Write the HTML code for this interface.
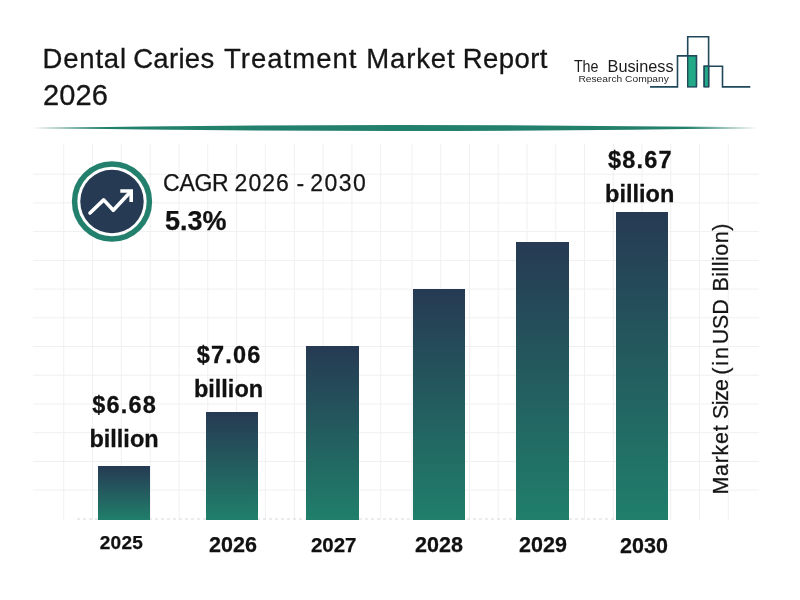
<!DOCTYPE html>
<html><head><meta charset="utf-8">
<style>
html,body{margin:0;padding:0;background:#fff;}
body{width:800px;height:600px;position:relative;overflow:hidden;font-family:"Liberation Sans",sans-serif;color:#111;}
.abs{position:absolute;white-space:nowrap;}
#grid{position:absolute;left:0;top:0;}
.title{font-size:27.5px;line-height:37.25px;color:#151515;white-space:pre;-webkit-text-stroke:0.3px #151515;}.w{position:absolute;top:0;white-space:pre;}
.bar{position:absolute;background:linear-gradient(to bottom,#263a53 0%,#207f6b 100%);}
.lbl{position:absolute;text-align:center;font-weight:bold;font-size:23.5px;line-height:34px;color:#111;width:120px;-webkit-text-stroke:0.3px #111;}.lbl span{letter-spacing:1.2px;margin-right:-1.2px}
.yr{position:absolute;text-align:center;font-weight:bold;color:#111;width:80px;-webkit-text-stroke:0.25px #111;}
</style></head><body>
<svg id="grid" width="800" height="600" viewBox="0 0 800 600"><g stroke="#f0f0f0" stroke-width="1"><line x1="63.7" y1="144" x2="63.7" y2="520"/><line x1="92.5" y1="144" x2="92.5" y2="520"/><line x1="121.3" y1="144" x2="121.3" y2="520"/><line x1="150.2" y1="144" x2="150.2" y2="520"/><line x1="179.0" y1="144" x2="179.0" y2="520"/><line x1="207.8" y1="144" x2="207.8" y2="520"/><line x1="236.6" y1="144" x2="236.6" y2="520"/><line x1="265.4" y1="144" x2="265.4" y2="520"/><line x1="294.3" y1="144" x2="294.3" y2="520"/><line x1="323.1" y1="144" x2="323.1" y2="520"/><line x1="351.9" y1="144" x2="351.9" y2="520"/><line x1="380.7" y1="144" x2="380.7" y2="520"/><line x1="412.0" y1="144" x2="412.0" y2="520"/><line x1="440.8" y1="144" x2="440.8" y2="520"/><line x1="469.5" y1="144" x2="469.5" y2="520"/><line x1="498.2" y1="144" x2="498.2" y2="520"/><line x1="527.0" y1="144" x2="527.0" y2="520"/><line x1="555.8" y1="144" x2="555.8" y2="520"/><line x1="584.5" y1="144" x2="584.5" y2="520"/><line x1="613.2" y1="144" x2="613.2" y2="520"/><line x1="642.0" y1="144" x2="642.0" y2="520"/><line x1="670.8" y1="144" x2="670.8" y2="520"/><line x1="699.5" y1="144" x2="699.5" y2="520"/><line x1="728.2" y1="144" x2="728.2" y2="520"/><line x1="33" y1="174.2" x2="759" y2="174.2"/><line x1="33" y1="202.9" x2="759" y2="202.9"/><line x1="33" y1="231.6" x2="759" y2="231.6"/><line x1="33" y1="260.4" x2="759" y2="260.4"/><line x1="33" y1="289.1" x2="759" y2="289.1"/><line x1="33" y1="317.8" x2="759" y2="317.8"/><line x1="33" y1="346.5" x2="759" y2="346.5"/><line x1="33" y1="375.2" x2="759" y2="375.2"/><line x1="33" y1="404.0" x2="759" y2="404.0"/><line x1="33" y1="432.7" x2="759" y2="432.7"/><line x1="33" y1="461.4" x2="759" y2="461.4"/><line x1="33" y1="490.1" x2="759" y2="490.1"/></g><line x1="77" y1="519" x2="668" y2="519" stroke="#d9d9d9" stroke-width="1" stroke-dasharray="3 3"/></svg>
<div class="abs title" style="left:0;top:39.5px;width:600px;height:80px"><span class="w" style="left:42.5px;letter-spacing:0.81px">Dental </span><span class="w" style="left:133.16px;letter-spacing:0.32px">Caries </span><span class="w" style="left:224.05px;letter-spacing:1.01px">Treatment </span><span class="w" style="left:366.26px;letter-spacing:0.85px">Market </span><span class="w" style="left:462.76px;letter-spacing:0.44px">Report</span><span class="w" style="left:43.1px;top:37.25px;letter-spacing:0.1px;font-size:29px">2026</span></div>
<svg class="abs" style="left:0;top:0" width="800" height="600" viewBox="0 0 800 600">
  <defs>
    <linearGradient id="lg" x1="0" x2="1" y1="0" y2="0">
      <stop offset="0" stop-color="#2b3f55"/><stop offset="0.15" stop-color="#23806d"/><stop offset="0.85" stop-color="#23806d"/><stop offset="1" stop-color="#2b3f55"/>
    </linearGradient>
  </defs>
  <path d="M32 128 Q395 122 758 128 Q395 134 32 128Z" fill="#23806d"/>
  <!-- logo -->
  <g fill="none" stroke="#21475a" stroke-width="1.6">
    <path d="M650 86.9 H677.5 V55.9 H696.4 V87"/>
    <path d="M687.7 56 V36.8 H708.6 V87"/>
    <path d="M704.2 87 V66.2 H722.5 V86.9 H750.3"/>
  </g>
  <rect x="687.7" y="55.9" width="8.7" height="31" fill="#22a987" stroke="#21475a" stroke-width="1.4"/>
  <rect x="704.2" y="66.2" width="4.4" height="20.7" fill="#22a987" stroke="#21475a" stroke-width="1.4"/>
  <text y="71.9" font-family="Liberation Sans, sans-serif" font-size="16.8" fill="#1b1b1b"><tspan x="573.9" textLength="24.6" lengthAdjust="spacingAndGlyphs">The</tspan> <tspan x="607.6" textLength="66" lengthAdjust="spacingAndGlyphs">Business</tspan></text>
  <text x="578.4" y="82.3" font-family="Liberation Sans, sans-serif" font-size="9" fill="#2a2a2a" textLength="90.5" lengthAdjust="spacingAndGlyphs">Research Company</text>
  <!-- icon -->
  <circle cx="112" cy="201.5" r="37.4" fill="none" stroke="#23806d" stroke-width="5.5"/>
  <circle cx="112" cy="201.5" r="31.7" fill="#263a53"/>
  <path d="M90 213 L103.7 199.9 L113.3 210.3 L130.3 192" fill="none" stroke="#fff" stroke-width="3.6" stroke-linecap="round" stroke-linejoin="round"/>
  <path d="M120.3 191 H131.2 V202" fill="none" stroke="#fff" stroke-width="3.6" stroke-linecap="butt" stroke-linejoin="miter"/>
</svg>
<div class="abs" style="left:0;top:168px;width:400px;height:30px;font-size:23px;line-height:30px;color:#151515;white-space:pre;-webkit-text-stroke:0.25px #151515;"><span class="w" style="left:163.11px;letter-spacing:-0.31px">CAGR </span><span class="w" style="left:234.6px;letter-spacing:1.03px">2026 </span><span class="w" style="left:296.4px;letter-spacing:0px">- </span><span class="w" style="left:310.2px;letter-spacing:1.45px">2030</span></div>
<div class="abs" style="left:165px;top:204px;font-size:27px;line-height:34px;font-weight:bold;color:#111;-webkit-text-stroke:0.25px #111;">5.3%</div>

<div class="bar" style="left:98px;top:466.4px;width:52px;height:53.4px"></div>
<div class="bar" style="left:205.8px;top:411.5px;width:52.3px;height:108.3px"></div>
<div class="bar" style="left:306.3px;top:346px;width:52.3px;height:173.8px"></div>
<div class="bar" style="left:412.6px;top:289px;width:52.4px;height:230.8px"></div>
<div class="bar" style="left:516.2px;top:242px;width:52.5px;height:277.8px"></div>
<div class="bar" style="left:616px;top:212.4px;width:52.1px;height:307.4px"></div>

<div class="lbl" style="left:64px;top:388px"><span>$6.68</span></div><div class="lbl" style="left:64px;top:422px">billion</div>
<div class="lbl" style="left:168.5px;top:338px"><span>$7.06</span></div><div class="lbl" style="left:168.5px;top:372px">billion</div>
<div class="lbl" style="left:579.7px;top:143px"><span>$8.67</span></div><div class="lbl" style="left:579.7px;top:177px">billion</div>

<div class="yr" style="left:81.4px;top:532px;font-size:19px;line-height:22px;letter-spacing:0.25px">2025</div>
<div class="yr" style="left:193px;top:532px;font-size:21.5px;line-height:26px">2026</div>
<div class="yr" style="left:293.7px;top:532px;font-size:20.5px;line-height:26px">2027</div>
<div class="yr" style="left:399px;top:532px;font-size:21.5px;line-height:26px">2028</div>
<div class="yr" style="left:503px;top:532px;font-size:21.5px;line-height:26px">2029</div>
<div class="yr" style="left:604px;top:533px;font-size:21.5px;line-height:26px">2030</div>

<div class="abs" id="ylab" style="left:709.2px;top:492.8px;width:300px;height:24px;font-size:21.5px;line-height:24px;color:#151515;white-space:pre;-webkit-text-stroke:0.25px #151515;transform-origin:0 0;transform:rotate(-90deg);"><span class="w" style="left:-1.57px;letter-spacing:0.7px">Market </span><span class="w" style="left:74.11px;letter-spacing:-0.63px">Size </span><span class="w" style="left:118.16px;letter-spacing:2.0px">(in </span><span class="w" style="left:148.68px;letter-spacing:-0.11px">USD </span><span class="w" style="left:201.43px;letter-spacing:0.5px">Billion)</span></div>
</body></html>
